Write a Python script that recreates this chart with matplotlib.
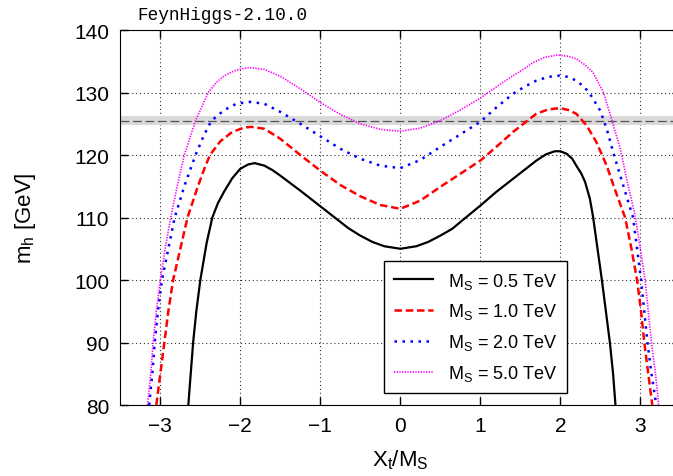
import matplotlib
matplotlib.use("Agg")
import matplotlib.pyplot as plt

plt.rcParams['font.family'] = ['Liberation Sans', 'DejaVu Sans']
plt.rcParams['mathtext.fontset'] = 'custom'
plt.rcParams['mathtext.rm'] = 'Liberation Sans'
plt.rcParams['mathtext.it'] = 'Liberation Sans'

# curves: X_t/M_S vs m_h [GeV]
x_05 = [-2.65, -2.62, -2.59, -2.55, -2.50, -2.46, -2.42, -2.35, -2.28, -2.20, -2.10, -2.00, -1.90, -1.82,
        -1.70, -1.60, -1.50, -1.25, -1.00, -0.80, -0.65, -0.50, -0.35, -0.20, 0.00,
        0.20, 0.35, 0.50, 0.65, 0.80, 1.00, 1.20, 1.41, 1.55, 1.70, 1.82, 1.93, 2.00, 2.08, 2.15, 2.20,
        2.26, 2.31, 2.37, 2.41, 2.46, 2.52, 2.57, 2.62, 2.66, 2.69]
y_05 = [80, 85, 90, 95, 100, 103, 106, 110, 112.3, 114.2, 116.3, 117.8, 118.5, 118.7,
        118.3, 117.6, 116.7, 114.3, 111.8, 109.8, 108.3, 107.1, 106.1, 105.4, 105.0,
        105.4, 106.1, 107.1, 108.2, 109.8, 111.9, 114.1, 116.2, 117.6, 119.1, 120.1, 120.6, 120.6, 120.2, 119.4, 118.3,
        117.1, 115.7, 113.0, 110.1, 105.5, 100, 95, 90, 85, 80]

x_10 = [-3.05, -3.00, -2.95, -2.90, -2.84, -2.75, -2.66, -2.53, -2.45, -2.38, -2.25, -2.10, -1.95, -1.86,
        -1.70, -1.50, -1.25, -1.00, -0.75, -0.50, -0.25, 0.00,
        0.25, 0.50, 0.75, 1.00, 1.20, 1.41, 1.55, 1.70, 1.85, 2.00, 2.10, 2.20, 2.33, 2.45, 2.58,
        2.68, 2.81, 2.89, 2.96, 3.01, 3.05, 3.10, 3.15]
y_10 = [80, 85, 90, 95, 100, 105, 110, 115, 117.8, 120, 122.2, 123.7, 124.4, 124.5,
        124.2, 122.6, 120.0, 117.5, 115.2, 113.4, 112.0, 111.4,
        112.7, 114.9, 117.0, 119.1, 121.3, 123.7, 125.1, 126.6, 127.3, 127.5, 127.2, 126.6, 124.7, 122.1, 118.3,
        114.6, 110, 105, 100, 95, 90, 85, 80]

x_20 = [-3.14, -3.10, -3.07, -3.03, -2.98, -2.90, -2.82, -2.70, -2.56, -2.45, -2.36, -2.20, -2.05, -1.88,
        -1.70, -1.50, -1.25, -1.00, -0.75, -0.50, -0.25, 0.00,
        0.25, 0.50, 0.75, 1.00, 1.20, 1.41, 1.55, 1.70, 1.85, 1.99, 2.10, 2.20, 2.30, 2.37, 2.50, 2.58,
        2.66, 2.75, 2.85, 2.91, 2.96, 3.01, 3.05, 3.09, 3.14, 3.20]
y_20 = [80, 85, 90, 95, 100, 105, 110, 115, 120, 123.3, 125.5, 127.2, 128.2, 128.5,
        128.2, 126.9, 125.0, 123.0, 121.0, 119.4, 118.3, 117.9,
        119.2, 121.3, 123.3, 125.3, 127.6, 129.8, 130.9, 131.9, 132.5, 132.7, 132.5, 131.9, 130.9, 129.8, 127.1, 124.2,
        120.5, 116.7, 112.5, 110, 105, 100, 95, 90, 85, 80]

x_50 = [-3.16, -3.12, -3.09, -3.05, -3.00, -2.94, -2.87, -2.79, -2.70, -2.56, -2.40, -2.30, -2.20, -2.05, -1.89,
        -1.70, -1.50, -1.25, -1.00, -0.75, -0.50, -0.25, 0.00,
        0.25, 0.50, 0.75, 1.00, 1.20, 1.41, 1.55, 1.66, 1.80, 1.96, 2.10, 2.20, 2.30, 2.41, 2.54, 2.64,
        2.75, 2.83, 2.94, 3.00, 3.06, 3.10, 3.14, 3.19, 3.23]
y_50 = [80, 85, 90, 95, 100, 105, 110, 115, 120, 125.5, 130, 131.6, 132.7, 133.6, 134.0,
        133.7, 132.6, 130.6, 128.4, 126.5, 125.0, 124.1, 123.8,
        124.3, 125.5, 127.2, 129.1, 130.9, 132.7, 133.8, 134.8, 135.6, 136.0, 135.8, 135.4, 134.5, 133.2, 130, 125.8,
        121.0, 116.2, 110, 105, 100, 95, 90, 85, 80]

mh_exp = 125.5
mh_err = 0.75

xticks = [-3, -2, -1, 0, 1, 2, 3]
yticks = [80, 90, 100, 110, 120, 130, 140]

fig = plt.figure(figsize=(6.73, 4.77), dpi=100)
ax = fig.add_axes([0.1788, 0.1488, 0.832, 0.7862])

# experimental band
ax.axhspan(mh_exp - mh_err, mh_exp + mh_err, color='#d9d9d9', lw=0, zorder=1)
ax.axhline(mh_exp, color='#555555', lw=0.9, dashes=(7, 3), zorder=2)

ax.plot(x_05, y_05, color='black', lw=1.6, label=r'M$_\mathrm{S}$ = 0.5 TeV', zorder=5)
ax.plot(x_10, y_10, color='#ff0000', lw=1.8, dashes=(3, 1.5), label=r'M$_\mathrm{S}$ = 1.0 TeV', zorder=5)
ax.plot(x_20, y_20, color='#0000ff', lw=1.8, dashes=(1, 2.2), label=r'M$_\mathrm{S}$ = 2.0 TeV', zorder=5)
ax.plot(x_50, y_50, color='#ff00ff', lw=1.2, dashes=(0.8, 0.8), label=r'M$_\mathrm{S}$ = 5.0 TeV', zorder=5)

ax.set_xlim(-3.5, 3.5)
ax.set_ylim(80, 140)
ax.set_xticks(xticks)
ax.set_yticks(yticks)
ax.tick_params(direction='in', length=6, width=1, labelsize=15, top=True, right=True, pad=8)
ax.grid(True, color='#333333', lw=0.8, linestyle=(0, (1, 2.5)))
ax.set_axisbelow(True)

ax.set_xlabel(r'X$_\mathrm{t}$/M$_\mathrm{S}$', fontsize=16, labelpad=9)
ax.set_ylabel(r'm$_\mathrm{h}$ [GeV]', fontsize=16, labelpad=26)

ax.text(-3.29, 141.2, 'FeynHiggs-2.10.0', family='Liberation Mono', fontsize=12.8,
        ha='left', va='bottom')

leg = ax.legend(loc='lower right', bbox_to_anchor=(0.798, 0.032), borderaxespad=0,
                fontsize=13, handlelength=2.2, labelspacing=0.6, fancybox=False,
                framealpha=1, edgecolor='black', borderpad=0.55, handletextpad=0.8)
leg.get_frame().set_linewidth(1.0)

fig.savefig('out.png', dpi=100)
